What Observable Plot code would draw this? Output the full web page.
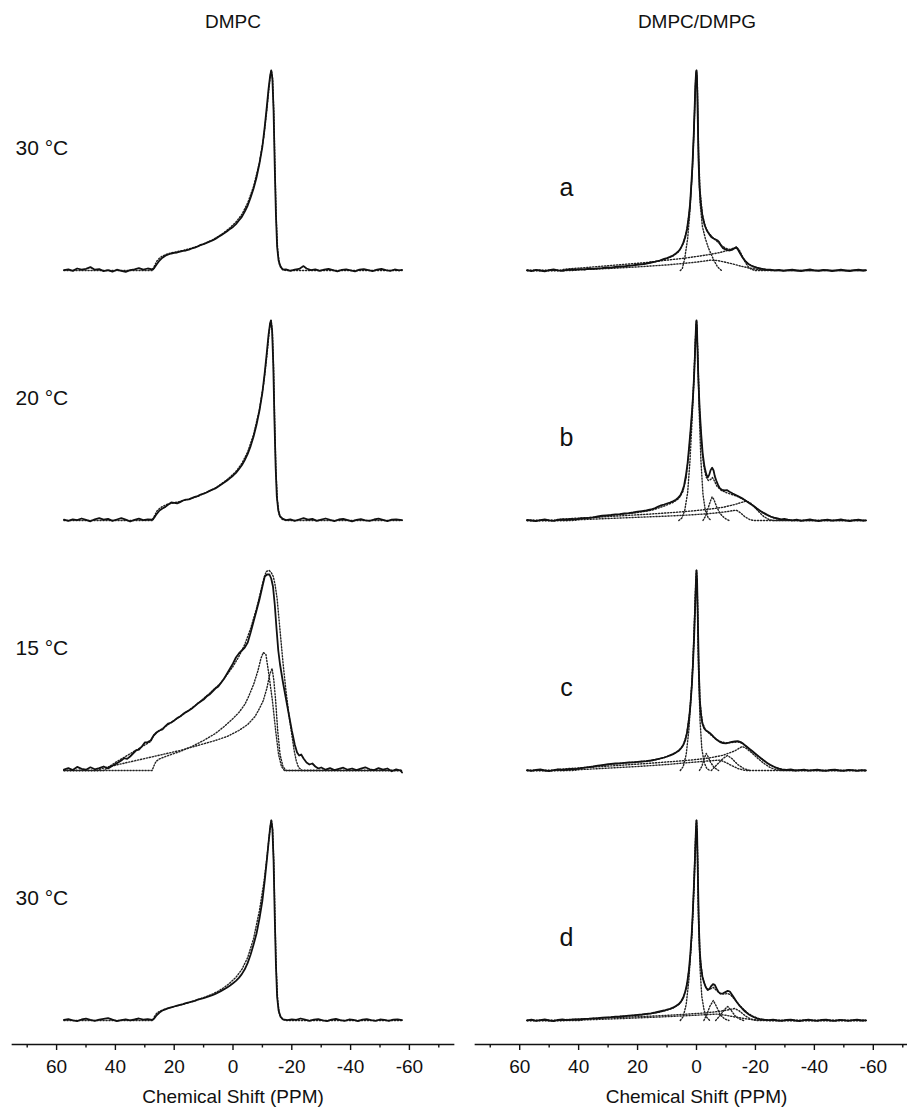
<!DOCTYPE html>
<html><head><meta charset="utf-8">
<script src="https://cdn.jsdelivr.net/npm/d3@7"></script>
<script src="https://cdn.jsdelivr.net/npm/@observablehq/plot@0.6"></script>
<style>
body{margin:0;background:#fff;font-family:Arial,"Liberation Sans",sans-serif;color:#111;}
#wrap{position:relative;width:907px;height:1113px;overflow:hidden;background:#fff;}
.title{position:absolute;top:12px;font-size:19px;line-height:20px;transform:translateX(-50%);white-space:nowrap;}
.col{position:absolute;top:40px;}
.col svg{max-width:none !important;}
</style></head><body>
<div id="wrap"></div>
<script>
// ---------- labels ----------
const columnTitles = ["DMPC", "DMPC/DMPG"];
const rowKeys = ["r1", "r2", "r3", "r4"];
const tempLabels = ["30 °C", "20 °C", "15 °C", "30 °C"];
const panelLetters = ["a", "b", "c", "d"];
const xTicksMajor = [60, 40, 20, 0, -20, -40, -60];
const xTicksMinor = [70, 50, 30, 10, -10, -30, -50, -70];
const xLabel = "Chemical Shift (PPM)";

// ---------- DMPC (left column), [ppm, relative intensity] ----------
const dmpc30a_exp = [[57.5,0.002],[56,0.006],[54.5,-0.002],[53,0.01],[51.5,0.004],[50,0.008],[48.5,0.017],[47,0.004],[45.5,0.007],[44,-0.003],[42.5,0.002],[41,-0.006],[39.5,0.004],[38,-0.002],[36.5,-0.007],[35,0.002],[33.5,0.006],[32,0.012],[30.5,0.004],[29,0.01],[27.5,0.006],[26.8,0.012],[26,0.03],[25,0.05],[24,0.064],[23,0.074],[22,0.08],[21,0.085],[20,0.088],[19,0.09],[18,0.094],[17,0.098],[16,0.1],[15,0.104],[14,0.11],[13,0.114],[12,0.12],[11,0.128],[10,0.132],[9,0.138],[8,0.144],[7,0.15],[6,0.158],[5,0.168],[4,0.176],[3,0.186],[2,0.196],[1,0.208],[0,0.218],[-1,0.232],[-2,0.25],[-3,0.268],[-4,0.295],[-5,0.325],[-6,0.365],[-7,0.41],[-8,0.465],[-9,0.535],[-10,0.62],[-10.8,0.72],[-11.5,0.82],[-12.1,0.91],[-12.6,0.97],[-13,1.0],[-13.4,0.96],[-13.8,0.8],[-14.2,0.52],[-14.6,0.28],[-15,0.12],[-15.5,0.05],[-16.2,0.018],[-17,0.004],[-18,0.006],[-19.5,-0.002],[-21,0.004],[-22.5,0.008],[-24,0.022],[-25,0.01],[-26.5,0.002],[-28,0.006],[-29.5,-0.002],[-31,0.004],[-32.5,0.008],[-34,0.002],[-35.5,-0.004],[-37,0.003],[-38.5,0.006],[-40,0.001],[-41.5,-0.004],[-43,0.004],[-44.5,0.007],[-46,0.002],[-47.5,-0.003],[-49,0.004],[-50.5,0.008],[-52,0.002],[-53.5,-0.002],[-55,0.005],[-56.5,0.001],[-57.5,0.003]];
const dmpc30a_fit = [[57.5,0],[27.2,0],[26.8,0.02],[26,0.045],[25,0.062],[24,0.072],[22.5,0.082],[21,0.088],[19,0.094],[17,0.1],[15,0.108],[13,0.117],[11,0.127],[9,0.139],[7,0.153],[5,0.17],[3,0.19],[1,0.214],[-1,0.242],[-3,0.28],[-5,0.338],[-7,0.42],[-9,0.54],[-10.5,0.67],[-11.5,0.8],[-12.3,0.92],[-12.8,0.985],[-13.1,1.0],[-13.5,0.95],[-13.9,0.78],[-14.3,0.5],[-14.7,0.26],[-15.2,0.1],[-15.8,0.03],[-16.8,0.006],[-18,0],[-57.5,0]];

const dmpc20_exp = [[57.5,0.004],[56,-0.002],[54.5,0.006],[53,0.002],[51.5,0.01],[50,0.003],[48.5,-0.004],[47,0.006],[45.5,0.012],[44,0.004],[42.5,0.008],[41,-0.002],[39.5,0.005],[38,0.012],[36.5,0.004],[35,-0.005],[33.5,0.003],[32,0.009],[30.5,0.002],[29,0.006],[27.5,0.004],[26.8,0.014],[26,0.032],[25,0.05],[24,0.06],[23,0.068],[22,0.08],[21,0.09],[20,0.088],[19,0.086],[18,0.092],[17,0.1],[16,0.104],[15,0.106],[14,0.112],[13,0.118],[12,0.122],[11,0.13],[10,0.134],[9,0.14],[8,0.148],[7,0.154],[6,0.16],[5,0.17],[4,0.18],[3,0.19],[2,0.2],[1,0.212],[0,0.224],[-1,0.238],[-2,0.256],[-3,0.276],[-4,0.302],[-5,0.333],[-6,0.372],[-7,0.42],[-8,0.478],[-9,0.55],[-10,0.64],[-10.8,0.74],[-11.5,0.84],[-12.1,0.93],[-12.6,0.985],[-12.9,1.0],[-13.3,0.95],[-13.7,0.78],[-14.1,0.5],[-14.5,0.27],[-14.9,0.12],[-15.4,0.05],[-16,0.02],[-17,0.008],[-18,0.002],[-19.5,0.006],[-21,-0.002],[-22.5,0.005],[-24,0.012],[-25.5,0.004],[-27,0.008],[-28.5,-0.002],[-30,0.004],[-31.5,0.01],[-33,0.003],[-34.5,-0.003],[-36,0.005],[-37.5,0.008],[-39,0.002],[-40.5,-0.004],[-42,0.003],[-43.5,0.007],[-45,0.001],[-46.5,-0.002],[-48,0.005],[-49.5,0.009],[-51,0.003],[-52.5,-0.003],[-54,0.004],[-55.5,0.006],[-57.5,0.002]];
const dmpc20_fit = [[57.5,0],[27.2,0],[26.8,0.02],[26,0.045],[25,0.06],[24,0.07],[22.5,0.08],[21,0.086],[19,0.092],[17,0.099],[15,0.107],[13,0.116],[11,0.127],[9,0.14],[7,0.155],[5,0.172],[3,0.193],[1,0.217],[-1,0.245],[-3,0.285],[-5,0.343],[-7,0.43],[-9,0.555],[-10.5,0.69],[-11.5,0.82],[-12.2,0.93],[-12.7,0.99],[-13,1.0],[-13.4,0.94],[-13.8,0.76],[-14.2,0.48],[-14.6,0.25],[-15.1,0.1],[-15.7,0.03],[-16.7,0.006],[-18,0],[-57.5,0]];

const dmpc15_exp = [[57.5,0.004],[56,0.012],[54.5,0.002],[53,0.018],[51.5,0.008],[50,0.004],[48.5,0.016],[47,0.006],[45.5,0.012],[44,0.02],[42.5,0.01],[41,0.024],[39.5,0.036],[38,0.05],[37,0.062],[36,0.058],[35,0.07],[34,0.085],[33,0.1],[32,0.104],[31,0.12],[30,0.14],[29,0.142],[28,0.15],[27,0.175],[26,0.19],[25,0.2],[24,0.205],[23,0.222],[22,0.235],[21,0.24],[20,0.25],[19,0.262],[18,0.27],[17,0.282],[16,0.292],[15,0.3],[14,0.31],[13,0.322],[12,0.335],[11,0.345],[10,0.355],[9,0.37],[8,0.38],[7,0.395],[6,0.41],[5,0.42],[4,0.44],[3,0.46],[2,0.485],[1,0.51],[0,0.535],[-1,0.565],[-2,0.585],[-3,0.6],[-4,0.615],[-5,0.64],[-6,0.69],[-7,0.745],[-8,0.8],[-9,0.855],[-10,0.92],[-10.8,0.97],[-11.6,0.98],[-12.4,0.98],[-13,0.96],[-13.6,0.92],[-14.2,0.83],[-14.8,0.71],[-15.4,0.6],[-16,0.53],[-17,0.44],[-18,0.36],[-19,0.28],[-20,0.2],[-21,0.13],[-21.8,0.09],[-22.5,0.075],[-23.2,0.08],[-24,0.06],[-25,0.04],[-26,0.03],[-27,0.035],[-28,0.02],[-29,0.01],[-30,0.015],[-31.5,0.004],[-33,0.012],[-34.5,0.002],[-36,0.008],[-37.5,0.014],[-39,0.004],[-40.5,0.01],[-42,0.002],[-43.5,0.009],[-45,0.016],[-46.5,0.006],[-48,0.002],[-49.5,0.012],[-51,0.004],[-52.5,0.01],[-54,-0.004],[-55.5,0.006],[-57,0.0],[-57.5,-0.01]];
const dmpc15_fit = [[57.5,0],[44,0],[43,0.01],[40,0.04],[36,0.075],[32,0.11],[28,0.145],[27,0.175],[26,0.19],[24,0.21],[20,0.25],[16,0.29],[12,0.335],[8,0.385],[4,0.44],[0,0.52],[-2,0.57],[-4,0.63],[-6,0.71],[-8,0.81],[-9.5,0.9],[-10.5,0.96],[-11.3,0.995],[-12.3,1.0],[-13,0.99],[-13.7,0.97],[-14.3,0.93],[-15,0.86],[-16,0.7],[-17,0.54],[-18,0.4],[-19,0.28],[-20,0.18],[-20.8,0.1],[-21.5,0.05],[-22.3,0.015],[-23.5,0],[-57.5,0]];
const dmpc15_gel = [[57.5,0],[27.5,0],[27,0.02],[26.2,0.045],[25,0.058],[22,0.075],[18,0.095],[14,0.12],[10,0.15],[6,0.185],[3,0.22],[0,0.26],[-2,0.29],[-4,0.33],[-5.2,0.366],[-7,0.43],[-8.5,0.5],[-9.5,0.56],[-10.3,0.59],[-11.2,0.58],[-12.3,0.47],[-13.4,0.35],[-14.5,0.2],[-15.5,0.08],[-16.5,0.02],[-17.5,0],[-57.5,0]];
const dmpc15_fluid = [[57.5,0],[46,0],[45,0.008],[42,0.02],[36,0.04],[30,0.06],[24,0.08],[18,0.1],[12,0.125],[6,0.15],[2,0.17],[-2,0.2],[-5,0.23],[-7.5,0.27],[-9,0.31],[-10.3,0.35],[-11.5,0.41],[-12.5,0.48],[-13.3,0.51],[-13.9,0.45],[-14.5,0.35],[-15.2,0.2],[-16,0.08],[-17,0.02],[-18,0],[-57.5,0]];

const dmpc30d_exp = [[57.5,0.003],[56,0.007],[54.5,0.001],[53,-0.003],[51.5,0.005],[50,0.009],[48.5,0.003],[47,-0.002],[45.5,0.004],[44,0.008],[42.5,0.012],[41,0.004],[39.5,-0.003],[38,0.002],[36.5,0.006],[35,0.001],[33.5,0.005],[32,0.01],[30.5,0.004],[29,0.007],[27.5,0.003],[26.8,0.01],[26,0.026],[25,0.04],[24,0.05],[23,0.056],[22,0.062],[21,0.066],[20,0.07],[19,0.074],[18,0.078],[17,0.082],[16,0.087],[15,0.09],[14,0.094],[13,0.098],[12,0.104],[11,0.108],[10,0.112],[9,0.117],[8,0.122],[7,0.127],[6,0.133],[5,0.14],[4,0.148],[3,0.156],[2,0.165],[1,0.175],[0,0.186],[-1,0.198],[-2,0.213],[-3,0.232],[-4,0.256],[-5,0.288],[-6,0.33],[-7,0.38],[-8,0.435],[-9,0.51],[-10,0.6],[-10.8,0.7],[-11.5,0.8],[-12.1,0.89],[-12.6,0.96],[-13,1.0],[-13.4,0.96],[-13.8,0.8],[-14.2,0.52],[-14.6,0.28],[-15,0.12],[-15.5,0.05],[-16.2,0.018],[-17,0.006],[-18.5,0.002],[-20,0.006],[-21.5,0.003],[-23,0.01],[-24.5,0.004],[-26,-0.002],[-27.5,0.004],[-29,0.007],[-30.5,0.001],[-32,-0.003],[-33.5,0.004],[-35,0.008],[-36.5,0.002],[-38,-0.002],[-39.5,0.005],[-41,0.003],[-42.5,-0.003],[-44,0.004],[-45.5,0.007],[-47,0.002],[-48.5,-0.002],[-50,0.005],[-51.5,0.003],[-53,-0.002],[-54.5,0.004],[-56,0.006],[-57.5,0.002]];
const dmpc30d_fit = [[57.5,0],[27.2,0],[26.8,0.018],[26,0.036],[25,0.046],[23,0.058],[21,0.066],[19,0.073],[17,0.081],[15,0.09],[13,0.099],[11,0.109],[9,0.12],[7,0.132],[5,0.147],[3,0.165],[1,0.188],[-1,0.216],[-3,0.255],[-5,0.315],[-7,0.41],[-9,0.55],[-10.5,0.69],[-11.5,0.81],[-12.3,0.92],[-12.8,0.98],[-13.1,1.0],[-13.5,0.95],[-13.9,0.78],[-14.3,0.5],[-14.7,0.26],[-15.2,0.1],[-15.8,0.03],[-16.8,0.006],[-18,0],[-57.5,0]];

// ---------- DMPC/DMPG (right column) ----------
const mix_a_exp = [[57.5,0.002],[56,-0.003],[54.5,0.003],[53,0.0],[51.5,-0.004],[50,0.002],[48.5,0.005],[47,0.001],[45.5,-0.002],[44,0.003],[42.5,0.006],[41,0.004],[39.5,0.007],[38,0.005],[36.5,0.009],[35,0.008],[33.5,0.011],[32,0.012],[30.5,0.015],[29,0.014],[27.5,0.018],[26,0.02],[24.5,0.021],[23,0.024],[21.5,0.026],[20,0.03],[18.5,0.031],[17,0.035],[15.5,0.04],[14,0.044],[12.5,0.05],[11,0.058],[10,0.062],[9,0.068],[8,0.075],[7,0.085],[6,0.098],[5.2,0.115],[4.5,0.138],[3.8,0.168],[3.2,0.21],[2.7,0.26],[2.2,0.33],[1.8,0.42],[1.4,0.52],[1,0.65],[0.7,0.78],[0.4,0.92],[0.15,0.99],[0,1.0],[-0.15,0.97],[-0.4,0.78],[-0.7,0.55],[-1,0.42],[-1.5,0.33],[-2.1,0.265],[-2.8,0.225],[-3.5,0.2],[-4.3,0.182],[-5,0.168],[-5.8,0.16],[-6.5,0.155],[-7.2,0.15],[-7.7,0.142],[-8.3,0.125],[-9,0.112],[-10,0.104],[-11,0.1],[-12,0.103],[-12.8,0.11],[-13.5,0.116],[-14.1,0.104],[-14.8,0.086],[-15.6,0.066],[-16.5,0.048],[-17.5,0.034],[-18.5,0.025],[-19.5,0.019],[-20.5,0.014],[-22,0.009],[-23.5,0.006],[-25,0.004],[-26.5,0.001],[-28,0.003],[-29.5,-0.002],[-31,0.002],[-32.5,0.004],[-34,0.0],[-35.5,-0.003],[-37,0.002],[-38.5,0.005],[-40,0.001],[-41.5,-0.002],[-43,0.003],[-44.5,0.002],[-46,-0.003],[-47.5,0.001],[-49,0.004],[-50.5,0.0],[-52,-0.003],[-53.5,0.002],[-55,0.004],[-56.5,0.0],[-57.5,0.002]];
const mix_a_fit = [[57.5,0],[45,0],[40,0.004],[35,0.008],[30,0.013],[25,0.02],[20,0.028],[15,0.04],[11,0.055],[8,0.072],[6,0.095],[4.5,0.135],[3.2,0.205],[2.2,0.32],[1.4,0.51],[0.8,0.74],[0.3,0.95],[0,1.0],[-0.3,0.93],[-0.7,0.6],[-1.2,0.4],[-2,0.28],[-3,0.22],[-4,0.19],[-5.5,0.165],[-7,0.145],[-8.5,0.125],[-10,0.11],[-11.5,0.105],[-13,0.112],[-13.6,0.115],[-14.3,0.1],[-15.2,0.075],[-16.2,0.052],[-17.5,0.034],[-19,0.02],[-21,0.01],[-24,0.003],[-27,0],[-57.5,0]];
const mix_a_narrow = [[5.5,0],[4.8,0.01],[4,0.06],[3,0.16],[2.2,0.3],[1.4,0.5],[0.8,0.72],[0.3,0.94],[0,1.0],[-0.3,0.92],[-0.7,0.56],[-1.2,0.34],[-2,0.22],[-3,0.16],[-4,0.115],[-5,0.08],[-6,0.048],[-7,0.022],[-7.8,0.008],[-8.5,0]];
const mix_a_broad1 = [[57.5,0],[46,0],[45,0.006],[40,0.012],[35,0.018],[30,0.024],[25,0.03],[20,0.036],[15,0.043],[10,0.052],[5,0.06],[0,0.07],[-4,0.079],[-8,0.09],[-11,0.102],[-13.6,0.118],[-14.6,0.1],[-15.6,0.07],[-16.6,0.04],[-17.6,0.018],[-18.6,0.006],[-20,0],[-57.5,0]];
const mix_a_broad2 = [[57.5,0],[42,0],[40,0.004],[30,0.01],[20,0.018],[10,0.028],[4,0.036],[0,0.042],[-3,0.048],[-5,0.052],[-7,0.05],[-9,0.044],[-12,0.034],[-15,0.022],[-18,0.012],[-21,0.005],[-24,0.001],[-26,0],[-57.5,0]];

const mix_b_exp = [[57.5,0.003],[56,0.0],[54.5,-0.003],[53,0.002],[51.5,0.005],[50,0.001],[48.5,-0.002],[47,0.003],[45.5,0.006],[44,0.004],[42.5,0.008],[41,0.006],[39.5,0.01],[38,0.012],[36.5,0.013],[35,0.016],[33.5,0.02],[32,0.024],[30.5,0.026],[29,0.028],[27.5,0.031],[26,0.032],[24.5,0.035],[23,0.037],[21.5,0.04],[20,0.044],[18.5,0.047],[17,0.05],[15.5,0.055],[14,0.062],[13,0.07],[12,0.076],[11,0.08],[10,0.085],[9,0.09],[8,0.096],[7,0.104],[6.2,0.114],[5.5,0.126],[4.8,0.148],[4.2,0.175],[3.6,0.225],[3,0.29],[2.5,0.37],[2,0.455],[1.5,0.55],[1.1,0.64],[0.7,0.76],[0.4,0.88],[0.15,0.98],[0,1.0],[-0.15,0.97],[-0.4,0.82],[-0.7,0.68],[-1.1,0.55],[-1.6,0.43],[-2.1,0.335],[-2.7,0.27],[-3.3,0.232],[-3.8,0.215],[-4.3,0.228],[-4.8,0.252],[-5.3,0.264],[-5.8,0.25],[-6.2,0.222],[-6.7,0.2],[-7.3,0.178],[-7.9,0.162],[-8.7,0.153],[-9.6,0.15],[-10.3,0.152],[-11.2,0.144],[-12.3,0.135],[-13.5,0.126],[-14.7,0.117],[-15.8,0.108],[-17,0.096],[-18.2,0.084],[-19.3,0.074],[-20.5,0.06],[-21.7,0.048],[-22.8,0.038],[-24,0.028],[-25.2,0.02],[-26.3,0.014],[-27.5,0.01],[-28.7,0.006],[-29.8,0.008],[-31,0.004],[-32.5,0.001],[-34,0.004],[-35.5,-0.002],[-37,0.002],[-38.5,0.005],[-40,0.001],[-41.5,-0.003],[-43,0.002],[-44.5,0.004],[-46,-0.001],[-47.5,0.002],[-49,0.005],[-50.5,0.001],[-52,-0.003],[-53.5,0.002],[-55,0.004],[-56.5,-0.001],[-57.5,0.001]];
const mix_b_fit = [[57.5,0],[44,0],[40,0.008],[35,0.015],[30,0.024],[25,0.032],[20,0.04],[15,0.052],[11,0.072],[8,0.09],[6,0.11],[4.6,0.145],[3.5,0.215],[2.5,0.35],[1.6,0.52],[0.9,0.7],[0.4,0.88],[0,1.0],[-0.4,0.85],[-0.9,0.6],[-1.6,0.4],[-2.4,0.28],[-3.2,0.22],[-4,0.2],[-4.8,0.205],[-5.4,0.215],[-6,0.2],[-7,0.17],[-8.5,0.15],[-10,0.14],[-12,0.13],[-14,0.12],[-16,0.106],[-18,0.088],[-20,0.065],[-22,0.043],[-24,0.026],[-26,0.014],[-28,0.006],[-31,0.001],[-33,0],[-57.5,0]];
const mix_b_narrow = [[6,0],[5,0.012],[4,0.05],[3,0.14],[2.2,0.3],[1.5,0.5],[0.9,0.7],[0.4,0.9],[0,1.0],[-0.4,0.85],[-0.9,0.55],[-1.5,0.3],[-2.2,0.13],[-3,0.05],[-4,0.012],[-5,0]];
const mix_b_mid = [[-2.2,0],[-3,0.02],[-4,0.065],[-4.8,0.1],[-5.3,0.118],[-5.9,0.105],[-6.8,0.07],[-8,0.035],[-9.5,0.012],[-11,0]];
const mix_b_broad1 = [[57.5,0],[48,0],[47,0.006],[40,0.012],[32,0.018],[24,0.025],[16,0.032],[8,0.04],[2,0.047],[-4,0.056],[-9,0.066],[-13,0.08],[-16.8,0.097],[-18.5,0.085],[-20,0.062],[-21.5,0.038],[-23,0.018],[-24.5,0.006],[-26,0],[-57.5,0]];
const mix_b_broad2 = [[57.5,0],[42,0],[40,0.004],[30,0.01],[20,0.016],[10,0.022],[2,0.028],[-4,0.034],[-8,0.04],[-11,0.046],[-13.5,0.052],[-15,0.038],[-16.5,0.018],[-18,0.005],[-19.5,0],[-57.5,0]];

const mix_c_exp = [[57.5,0.002],[56,-0.002],[54.5,0.003],[53,0.005],[51.5,0.0],[50,-0.003],[48.5,0.002],[47,0.006],[45.5,0.003],[44,0.005],[42.5,0.008],[41,0.007],[39.5,0.011],[38,0.014],[36.5,0.017],[35,0.02],[33.5,0.024],[32,0.027],[30.5,0.03],[29,0.033],[27.5,0.035],[26,0.036],[24.5,0.038],[23,0.04],[21.5,0.041],[20,0.043],[18.5,0.045],[17,0.047],[15.5,0.05],[14,0.054],[12.5,0.059],[11,0.065],[10,0.07],[9,0.076],[8,0.082],[7,0.09],[6,0.1],[5.2,0.112],[4.5,0.128],[3.8,0.152],[3.2,0.19],[2.6,0.25],[2.1,0.32],[1.6,0.42],[1.2,0.53],[0.8,0.67],[0.5,0.8],[0.2,0.94],[0,1.0],[-0.2,0.95],[-0.5,0.72],[-0.8,0.5],[-1.1,0.36],[-1.5,0.28],[-2,0.235],[-2.6,0.21],[-3.2,0.2],[-3.8,0.195],[-4.5,0.188],[-5.2,0.178],[-6,0.166],[-7,0.152],[-8,0.142],[-9,0.137],[-10,0.136],[-11,0.139],[-12,0.143],[-13,0.146],[-14,0.147],[-15,0.142],[-16,0.132],[-17,0.12],[-18,0.108],[-19,0.096],[-20,0.084],[-21,0.072],[-22,0.06],[-23,0.049],[-24,0.038],[-25,0.029],[-26,0.021],[-27,0.014],[-28,0.009],[-29,0.006],[-30.5,0.003],[-32,0.005],[-33.5,0.0],[-35,0.002],[-36.5,0.004],[-38,-0.001],[-39.5,0.002],[-41,0.004],[-42.5,0.0],[-44,-0.002],[-45.5,0.003],[-47,0.004],[-48.5,0.0],[-50,-0.002],[-51.5,0.003],[-53,0.002],[-54.5,-0.002],[-56,0.002],[-57.5,0.0]];
const mix_c_fit = [[57.5,0],[45,0],[40,0.01],[35,0.02],[30,0.03],[25,0.037],[20,0.043],[15,0.05],[11,0.064],[8,0.08],[6,0.098],[4.5,0.125],[3.3,0.185],[2.3,0.29],[1.5,0.45],[0.8,0.67],[0.3,0.9],[0,1.0],[-0.3,0.88],[-0.7,0.55],[-1.2,0.34],[-2,0.24],[-3,0.205],[-4,0.19],[-5,0.176],[-6.5,0.158],[-8,0.145],[-10,0.138],[-12,0.14],[-14,0.143],[-15.5,0.136],[-17,0.118],[-19,0.094],[-21,0.07],[-23,0.047],[-25,0.027],[-27,0.013],[-29,0.005],[-31,0.001],[-33,0],[-57.5,0]];
const mix_c_narrow = [[5.5,0],[4.5,0.02],[3.5,0.08],[2.6,0.2],[1.8,0.38],[1.2,0.55],[0.6,0.8],[0.2,0.96],[0,1.0],[-0.3,0.86],[-0.7,0.5],[-1.2,0.25],[-1.8,0.11],[-2.6,0.04],[-3.5,0.01],[-4.5,0]];
const mix_c_mid = [[-1,0],[-1.8,0.02],[-2.6,0.06],[-3.3,0.085],[-3.9,0.07],[-4.8,0.04],[-6,0.015],[-7.5,0]];
const mix_c_mid2 = [[-5,0],[-7,0.03],[-9,0.06],[-10.5,0.075],[-12,0.06],[-14,0.03],[-16,0.01],[-18,0]];
const mix_c_broad1 = [[57.5,0],[48,0],[47,0.006],[40,0.013],[32,0.02],[24,0.028],[16,0.036],[8,0.045],[2,0.052],[-4,0.062],[-9,0.076],[-13,0.098],[-15.5,0.12],[-17,0.11],[-19,0.085],[-21,0.058],[-23,0.034],[-25,0.015],[-27,0.004],[-29,0],[-57.5,0]];
const mix_c_broad2 = [[57.5,0],[42,0],[40,0.004],[30,0.012],[20,0.02],[10,0.03],[2,0.04],[-4,0.048],[-8,0.052],[-10,0.04],[-12,0.024],[-14,0.01],[-16,0.002],[-17,0],[-57.5,0]];

const mix_d_exp = [[57.5,0.001],[56,0.004],[54.5,-0.002],[53,0.002],[51.5,0.005],[50,0.0],[48.5,-0.003],[47,0.003],[45.5,0.005],[44,0.002],[42.5,0.004],[41,0.006],[39.5,0.005],[38,0.008],[36.5,0.009],[35,0.011],[33.5,0.012],[32,0.014],[30.5,0.016],[29,0.017],[27.5,0.019],[26,0.02],[24.5,0.022],[23,0.024],[21.5,0.026],[20,0.028],[18.5,0.03],[17,0.033],[15.5,0.036],[14,0.04],[12.5,0.045],[11,0.05],[10,0.054],[9,0.058],[8,0.064],[7,0.072],[6,0.082],[5.2,0.096],[4.5,0.115],[3.8,0.145],[3.2,0.185],[2.6,0.25],[2.1,0.33],[1.6,0.44],[1.2,0.56],[0.8,0.7],[0.5,0.82],[0.2,0.95],[0,1.0],[-0.2,0.94],[-0.5,0.7],[-0.8,0.48],[-1.1,0.35],[-1.5,0.27],[-2,0.22],[-2.6,0.188],[-3.2,0.165],[-3.8,0.152],[-4.4,0.158],[-5,0.172],[-5.6,0.182],[-6.2,0.178],[-6.8,0.16],[-7.5,0.142],[-8.2,0.134],[-9,0.136],[-9.8,0.142],[-10.6,0.148],[-11.3,0.145],[-12,0.13],[-12.8,0.112],[-13.6,0.094],[-14.5,0.076],[-15.5,0.06],[-16.5,0.045],[-17.5,0.033],[-18.5,0.024],[-19.5,0.017],[-20.5,0.011],[-21.5,0.007],[-23,0.004],[-24.5,0.002],[-26,0.004],[-27.5,0.0],[-29,-0.002],[-30.5,0.003],[-32,0.004],[-33.5,0.0],[-35,-0.003],[-36.5,0.002],[-38,0.004],[-39.5,0.001],[-41,-0.002],[-42.5,0.003],[-44,0.004],[-45.5,0.0],[-47,-0.002],[-48.5,0.003],[-50,0.002],[-51.5,-0.002],[-53,0.002],[-54.5,0.004],[-56,0.0],[-57.5,0.001]];
const mix_d_fit = [[57.5,0],[45,0],[40,0.005],[35,0.01],[30,0.015],[25,0.021],[20,0.027],[15,0.035],[11,0.047],[8,0.062],[6,0.08],[4.5,0.11],[3.3,0.17],[2.3,0.28],[1.5,0.44],[0.8,0.68],[0.3,0.9],[0,1.0],[-0.3,0.87],[-0.7,0.52],[-1.2,0.32],[-2,0.22],[-3,0.17],[-4,0.155],[-5,0.16],[-5.8,0.165],[-6.8,0.15],[-8,0.135],[-9.5,0.132],[-10.6,0.135],[-11.6,0.128],[-13,0.105],[-14.5,0.078],[-16,0.055],[-17.5,0.036],[-19,0.022],[-21,0.01],[-23,0.003],[-25,0],[-57.5,0]];
const mix_d_narrow = [[5.5,0],[4.5,0.02],[3.5,0.08],[2.6,0.2],[1.8,0.38],[1.2,0.55],[0.6,0.8],[0.2,0.96],[0,1.0],[-0.3,0.86],[-0.7,0.5],[-1.2,0.26],[-1.8,0.12],[-2.6,0.05],[-3.5,0.015],[-4.5,0]];
const mix_d_mid = [[-2.5,0],[-3.5,0.03],[-4.5,0.07],[-5.7,0.1],[-6.8,0.07],[-8,0.03],[-9.5,0.008],[-11,0]];
const mix_d_mid2 = [[-6.5,0],[-8,0.025],[-9.5,0.055],[-10.6,0.07],[-11.8,0.05],[-13,0.025],[-14.5,0.008],[-16,0]];
const mix_d_broad1 = [[57.5,0],[46,0],[45,0.004],[35,0.01],[25,0.016],[15,0.022],[5,0.03],[-3,0.038],[-8,0.046],[-11,0.054],[-13,0.06],[-14.5,0.048],[-16,0.03],[-17.5,0.014],[-19,0.004],[-20.5,0],[-57.5,0]];
const mix_d_broad2 = [[57.5,0],[40,0],[38,0.003],[25,0.01],[12,0.018],[2,0.025],[-4,0.03],[-7,0.032],[-10,0.026],[-14,0.015],[-18,0.006],[-22,0.001],[-24,0],[-57.5,0]];

// ---------- panel table ----------
const leftPanels = [
  {row: "r1", exp: dmpc30a_exp, fits: [dmpc30a_fit]},
  {row: "r2", exp: dmpc20_exp, fits: [dmpc20_fit]},
  {row: "r3", exp: dmpc15_exp, fits: [dmpc15_fit, dmpc15_gel, dmpc15_fluid]},
  {row: "r4", exp: dmpc30d_exp, fits: [dmpc30d_fit]}
];
const rightPanels = [
  {row: "r1", exp: mix_a_exp, fits: [mix_a_fit, mix_a_narrow, mix_a_broad1, mix_a_broad2]},
  {row: "r2", exp: mix_b_exp, fits: [mix_b_fit, mix_b_narrow, mix_b_mid, mix_b_broad1, mix_b_broad2]},
  {row: "r3", exp: mix_c_exp, fits: [mix_c_fit, mix_c_narrow, mix_c_mid, mix_c_mid2, mix_c_broad1, mix_c_broad2]},
  {row: "r4", exp: mix_d_exp, fits: [mix_d_fit, mix_d_narrow, mix_d_mid, mix_d_mid2, mix_d_broad1, mix_d_broad2]}
];

function tidy(panels) {
  const exp = [], fit = [];
  panels.forEach(p => {
    p.exp.forEach(([ppm, I]) => exp.push({row: p.row, ppm, I}));
    p.fits.forEach((f, k) => f.forEach(([ppm, I]) => fit.push({row: p.row, series: p.row + "-" + k, ppm, I})));
  });
  return {exp, fit};
}

const FONT = "Arial, 'Liberation Sans', Helvetica, sans-serif";

function column(panels, labels, labelOpts, width, marginLeft, marginRight) {
  const {exp, fit} = tidy(panels);
  const labelData = rowKeys.map((r, i) => ({row: r, label: labels[i]}));
  const svg = Plot.plot({
    width, height: 1073,
    marginTop: 30, marginBottom: 69, marginLeft, marginRight,
    style: {fontFamily: FONT, color: "#111", background: "transparent", overflow: "visible", maxWidth: "none"},
    x: {domain: [75, -75]},
    y: {domain: [-0.12, 1], axis: null},
    fy: {domain: rowKeys, paddingInner: 0.104, paddingOuter: 0, axis: null, label: null},
    marks: [
      Plot.frame({anchor: "bottom", facetAnchor: "bottom", strokeWidth: 1.7, stroke: "#111"}),
      Plot.axisX({ticks: xTicksMinor, tickSize: 3.5, text: null, label: null, strokeWidth: 1.4}),
      Plot.axisX({ticks: xTicksMajor, tickSize: 6, tickPadding: 9, fontSize: 19, tickFormat: d => String(d),
                  label: xLabel, labelAnchor: "center", labelArrow: "none", labelOffset: 58, strokeWidth: 1.4}),
      Plot.line(fit, {x: "ppm", y: "I", z: "series", fy: "row", stroke: "#222", strokeWidth: 1.4, strokeDasharray: "1.2,1.8"}),
      Plot.line(exp, {x: "ppm", y: "I", fy: "row", stroke: "#111", strokeWidth: 1.8}),
      Plot.text(labelData, {fy: "row", text: "label", frameAnchor: "top-left", lineAnchor: "middle", fill: "#111", ...labelOpts})
    ]
  });
  svg.style.maxWidth = "none";
  return svg;
}

const wrap = document.getElementById("wrap");
[233, 697].forEach((x, i) => {
  const t = document.createElement("div");
  t.className = "title"; t.style.left = x + "px"; t.textContent = columnTitles[i];
  wrap.appendChild(t);
});
const left = document.createElement("div"); left.className = "col"; left.style.left = "0px"; left.style.width = "460px";
left.appendChild(column(leftPanels, tempLabels, {dx: 3, dy: 78, textAnchor: "start", fontSize: 21}, 460, 12, 7));
wrap.appendChild(left);
const right = document.createElement("div"); right.className = "col"; right.style.left = "460px"; right.style.width = "457px";
right.appendChild(column(rightPanels, panelLetters, {dx: 91, dy: 117, textAnchor: "middle", fontSize: 25}, 457, 15, 0));
wrap.appendChild(right);
</script>
</body></html>
